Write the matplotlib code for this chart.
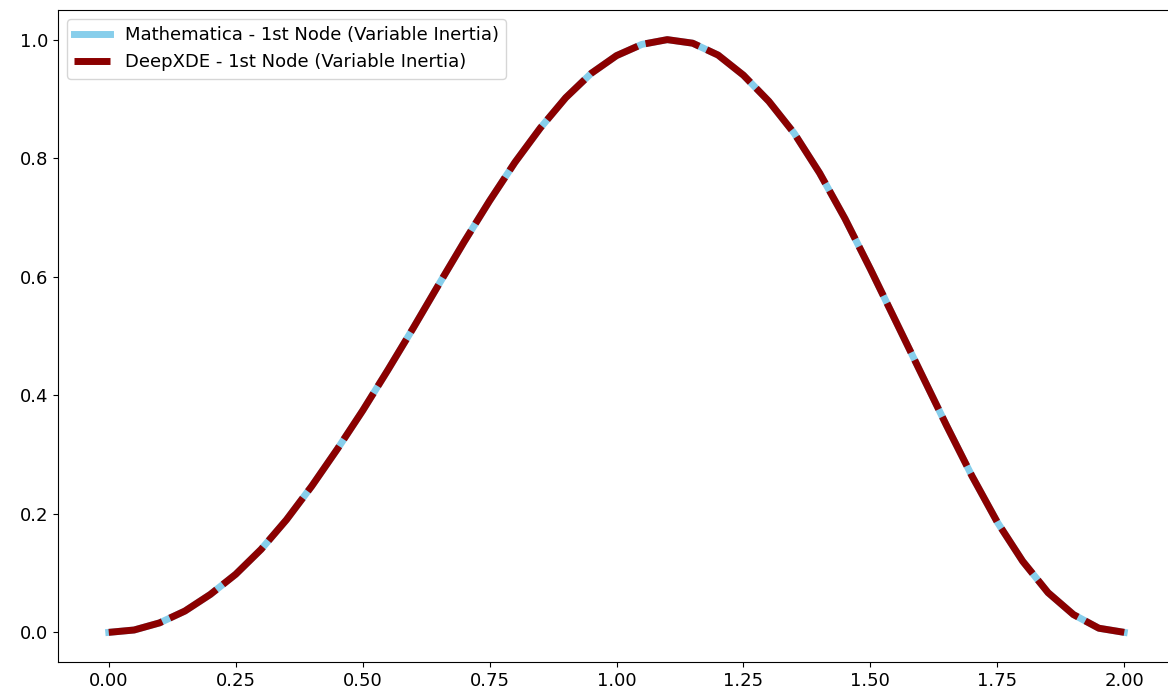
import numpy as np
import matplotlib
matplotlib.use('Agg')
import matplotlib.pyplot as plt

# node displacement, x in [0, 2]
x_vals = [0.00, 0.05, 0.10, 0.15, 0.20, 0.25, 0.30, 0.35, 0.40, 0.45,
          0.50, 0.55, 0.60, 0.65, 0.70, 0.75, 0.80, 0.85, 0.90, 0.95,
          1.00, 1.05, 1.10, 1.15, 1.20, 1.25, 1.30, 1.35, 1.40, 1.45,
          1.50, 1.55, 1.60, 1.65, 1.70, 1.75, 1.80, 1.85, 1.90, 1.95, 2.00]
mathematica_y = [0.000, 0.004, 0.016, 0.036, 0.064, 0.098, 0.140, 0.190, 0.247, 0.309,
                 0.374, 0.443, 0.514, 0.587, 0.659, 0.728, 0.793, 0.851, 0.902, 0.943,
                 0.973, 0.992, 1.000, 0.994, 0.974, 0.940, 0.896, 0.842, 0.775, 0.698,
                 0.613, 0.525, 0.437, 0.349, 0.264, 0.186, 0.120, 0.067, 0.030, 0.007, 0.000]
deepxde_y = list(mathematica_y)

label_1 = 'Mathematica - 1st Node (Variable Inertia)'
label_2 = 'DeepXDE - 1st Node (Variable Inertia)'

plt.rcParams['font.size'] = 13

fig = plt.figure(figsize=(11.68, 6.98), dpi=100)
# right edge of the axes sits just outside the picture, as in the reference
ax = fig.add_axes([58/1168, 36/698, 1117/1168, 652/698])

ax.plot(x_vals, mathematica_y, color='skyblue', linewidth=5, label=label_1)
ax.plot(x_vals, deepxde_y, color='darkred', linewidth=5, linestyle=(0, (7.9, 1.2)), label=label_2)

ax.set_xlim(-0.1, 2.1)
ax.set_xticks([0.0, 0.25, 0.5, 0.75, 1.0, 1.25, 1.5, 1.75, 2.0])
ax.legend(loc='upper left')

fig.savefig('out.png', dpi=100)
